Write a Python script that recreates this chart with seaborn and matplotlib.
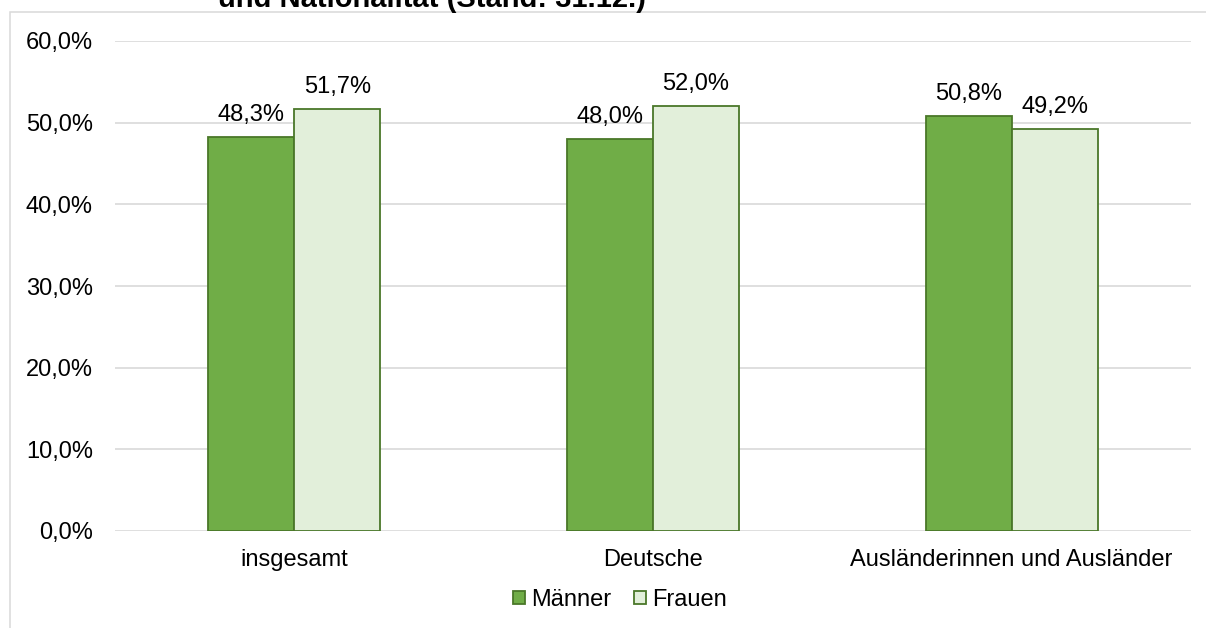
import matplotlib
matplotlib.use("Agg")
import matplotlib.pyplot as plt
import seaborn as sns
import pandas as pd
from matplotlib.patches import Rectangle
from matplotlib.ticker import FuncFormatter

categories = ["insgesamt", "Deutsche", "Ausländerinnen und Ausländer"]
maenner = [48.3, 48.0, 50.8]
frauen = [51.7, 52.0, 49.2]
series_names = ["Männer", "Frauen"]
title_text = "und Nationalität (Stand: 31.12.)"
yticks = [0, 10, 20, 30, 40, 50, 60]

df = pd.DataFrame({
    "Kategorie": categories * 2,
    "Geschlecht": [series_names[0]] * 3 + [series_names[1]] * 3,
    "Anteil": maenner + frauen,
})

sns.set_theme(style="white")
plt.rcParams["font.family"] = ["Liberation Sans", "DejaVu Sans"]
plt.rcParams["text.color"] = "#000000"

W, H = 1206, 628
fig = plt.figure(figsize=(W / 100, H / 100), dpi=100)
ax = fig.add_axes([115 / W, 1 - 531 / H, (1191 - 115) / W, (531 - 41) / H])

colors = {"Männer": "#70AD47", "Frauen": "#E2EFDA"}
edge = "#4A7729"
sns.barplot(data=df, x="Kategorie", y="Anteil", hue="Geschlecht",
            palette=colors, width=0.48, edgecolor=edge, linewidth=1.3,
            ax=ax, zorder=3, saturation=1)

ax.set_ylim(0, 60)
ax.set_xlim(-0.5, 2.5)
ax.set_yticks(yticks)
ax.yaxis.set_major_formatter(FuncFormatter(lambda v, p: f"{v:.1f}%".replace(".", ",")))
ax.grid(axis="y", color="#D9D9D9", linewidth=1.2, zorder=0)
ax.grid(axis="x", visible=False)
for s in ax.spines.values():
    s.set_visible(False)
ax.tick_params(axis="both", length=0, labelsize=17, colors="#000000")
ax.tick_params(axis="y", pad=16)
ax.tick_params(axis="x", pad=13)
ax.set_xlabel("")
ax.set_ylabel("")

for cont in ax.containers:
    for bar in cont:
        h = bar.get_height()
        ax.annotate(f"{h:.1f}%".replace(".", ","),
                    (bar.get_x() + bar.get_width() / 2, h),
                    xytext=(0, 11.5), textcoords="offset points",
                    ha="center", va="baseline", fontsize=17, color="#000000")

leg = ax.legend(loc="center", bbox_to_anchor=(620 / W, 1 - 600 / H),
                bbox_transform=fig.transFigure, ncol=2, frameon=False,
                fontsize=17, handlelength=0.5, handleheight=0.5,
                handletextpad=0.25, columnspacing=1.0, borderpad=0)
for hdl in leg.legend_handles:
    hdl.set_edgecolor(edge)
    hdl.set_linewidth(1.3)
for t in leg.get_texts():
    t.set_color("#000000")

# outer chart frame (cropped chart area)
fig.patches.append(Rectangle((10 / W, -0.1), 1.2, 1 - 12 / H + 0.1,
                             transform=fig.transFigure, fill=False,
                             edgecolor="#D9D9D9", linewidth=1.1, zorder=0))

fig.text(218 / W, 1 - 7 / H, title_text, fontsize=21, fontweight="bold",
         ha="left", va="baseline", color="#000000")

fig.savefig("out.png", dpi=100, facecolor="white")
